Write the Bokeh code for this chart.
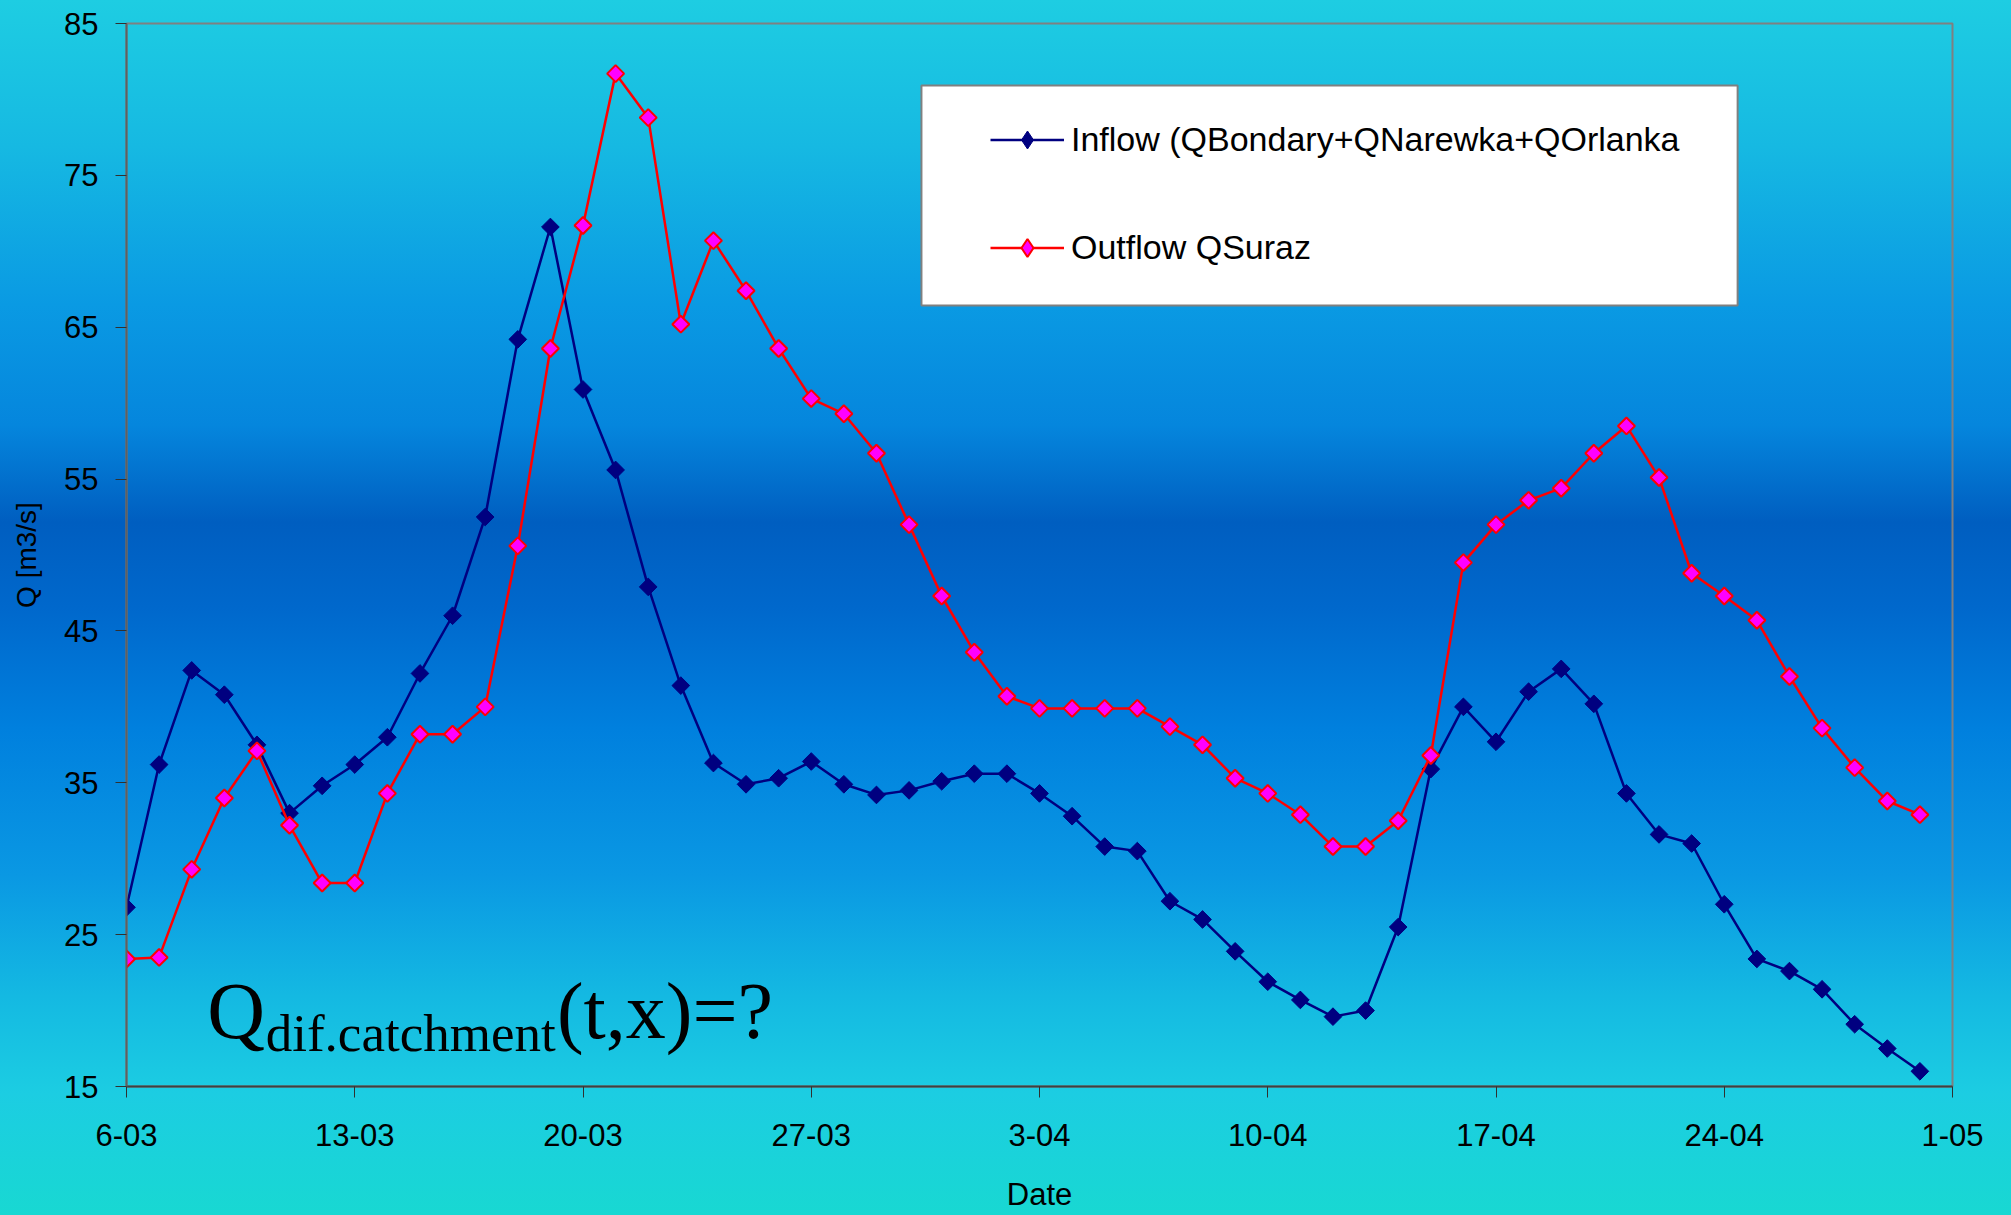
import numpy as np
from bokeh.plotting import figure
from bokeh.models import FixedTicker, Label, Range1d, BoxAnnotation
from bokeh.embed import file_html
from bokeh.resources import INLINE

# ---- data ----
days = list(range(56))
inflow = [26.8, 36.2, 42.4, 40.8, 37.5, 33.0, 34.8, 36.2, 38.0, 42.2,
          46.0, 52.5, 64.2, 71.6, 60.9, 55.6, 47.9, 41.4, 36.3, 34.9,
          35.3, 36.4, 34.9, 34.2, 34.5, 35.1, 35.6, 35.6, 34.3, 32.8,
          30.8, 30.5, 27.2, 26.0, 23.9, 21.9, 20.7, 19.6, 20.0, 25.5,
          35.9, 40.0, 37.7, 41.0, 42.5, 40.2, 34.3, 31.6, 31.0, 27.0,
          23.4, 22.6, 21.4, 19.1, 17.5, 16.0]
outflow = [23.4, 23.5, 29.3, 34.0, 37.1, 32.2, 28.4, 28.4, 34.3, 38.2,
           38.2, 40.0, 50.6, 63.6, 71.7, 81.7, 78.8, 65.2, 70.7, 67.4,
           63.6, 60.3, 59.3, 56.7, 52.0, 47.3, 43.6, 40.7, 39.9, 39.9,
           39.9, 39.9, 38.7, 37.5, 35.3, 34.3, 32.9, 30.8, 30.8, 32.5,
           36.8, 49.5, 52.0, 53.6, 54.4, 56.7, 58.5, 55.1, 48.8, 47.3,
           45.7, 42.0, 38.6, 36.0, 33.8, 32.9]
tick_days = [0, 7, 14, 21, 28, 35, 42, 49, 56]
tick_labels = ["6-03", "13-03", "20-03", "27-03", "3-04", "10-04", "17-04", "24-04", "1-05"]
y_ticks = [15, 25, 35, 45, 55, 65, 75, 85]
inflow_name = "Inflow (QBondary+QNarewka+QOrlanka"
outflow_name = "Outflow QSuraz"

SANS = "Liberation Sans"
SERIF = "Liberation Serif"
NAVY = "#000080"

p = figure(width=2011, height=1215, x_range=Range1d(0, 56), y_range=Range1d(15, 85),
           output_backend="svg", toolbar_location=None,
           min_border_left=126, min_border_right=59, min_border_top=23, min_border_bottom=129)

p.styles = {"background": "linear-gradient(180deg, #1ecde2 0%, #16b9e2 12%, #0a9ae3 25%, "
                          "#0586dd 35%, #005ec0 43%, #0068cc 50%, #0080de 60%, #0a98e3 72%, "
                          "#14b9e2 82%, #1ccde2 90%, #18d8d2 100%)"}
p.background_fill_alpha = 0
p.border_fill_alpha = 0
p.outline_line_color = "#808080"
p.outline_line_width = 2
p.xgrid.grid_line_color = None
p.ygrid.grid_line_color = None

# white legend frame (added first so that the legend is drawn over it)
p.add_layout(BoxAnnotation(left=24.38, right=49.41, bottom=66.43, top=80.92,
                           fill_color="white", fill_alpha=1,
                           line_color="#808080", line_width=2, line_alpha=1))

# legend-only diamond markers (not drawn in the plot: NaN position)
nan_pt = [float("nan")]

p.line(days, inflow, line_color=NAVY, line_width=2.5, legend_label=inflow_name)
p.scatter(nan_pt, nan_pt, marker="diamond", size=20, fill_color=NAVY, line_color=NAVY,
          line_width=1, legend_label=inflow_name)
p.scatter(days, inflow, marker="square", angle=np.pi / 4, size=12.5,
          fill_color=NAVY, line_color=NAVY, line_width=1)
p.line(days, outflow, line_color="#ff0000", line_width=2.5, legend_label=outflow_name)
p.scatter(nan_pt, nan_pt, marker="diamond", size=20, fill_color="#ff00ff", line_color="#ff0000",
          line_width=2, legend_label=outflow_name)
p.scatter(days, outflow, marker="square", angle=np.pi / 4, size=12,
          fill_color="#ff00ff", line_color="#ff0000", line_width=2)

# axes
p.xaxis.ticker = FixedTicker(ticks=tick_days)
p.xaxis.major_label_overrides = {d: l for d, l in zip(tick_days, tick_labels)}
p.yaxis.ticker = FixedTicker(ticks=y_ticks)
for ax in (p.xaxis[0], p.yaxis[0]):
    ax.minor_tick_line_color = None
    ax.major_tick_out = 11
    ax.major_tick_in = 0
    ax.major_tick_line_color = "#303030"
    ax.major_tick_line_width = 1
    ax.major_label_text_font = SANS
    ax.major_label_text_font_size = "31px"
    ax.major_label_text_color = "black"
    ax.axis_label_text_font = SANS
    ax.axis_label_text_font_style = "normal"
    ax.axis_label_text_color = "black"
p.xaxis.axis_label = "Date"
p.yaxis.axis_label = "Q [m3/s]"
p.xaxis.axis_label_text_font_size = "31px"
p.yaxis.axis_label_text_font_size = "28px"
p.xaxis.major_label_standoff = 26
p.yaxis.major_label_standoff = 17
p.xaxis.axis_label_standoff = 28
p.yaxis.axis_label_standoff = 19
p.xaxis.axis_line_color = "#404040"
p.xaxis.axis_line_width = 2
p.yaxis.axis_line_color = "#606060"
p.yaxis.axis_line_width = 2

# legend (frame drawn by the box above)
lg = p.legend[0]
lg.location = (864, 816)
lg.label_text_font = SANS
lg.label_text_font_size = "34px"
lg.label_text_color = "black"
lg.glyph_width = 74
lg.glyph_height = 45
lg.label_height = 45
lg.label_standoff = 7
lg.spacing = 63
lg.padding = 0
lg.margin = 0
lg.border_line_color = None
lg.background_fill_alpha = 0

# formula annotation
p.add_layout(Label(x=2.48, y=20.0, text="Q", text_font=SERIF, text_font_size="80px",
                   text_color="black", text_baseline="alphabetic"))
p.add_layout(Label(x=4.27, y=18.55, text="dif.catchment", text_font=SERIF, text_font_size="53px",
                   text_color="black", text_baseline="alphabetic"))
p.add_layout(Label(x=13.2, y=20.0, text="(t,x)=?", text_font=SERIF, text_font_size="80px",
                   text_color="black", text_baseline="alphabetic"))

open("out.html", "w").write(file_html(p, INLINE))
